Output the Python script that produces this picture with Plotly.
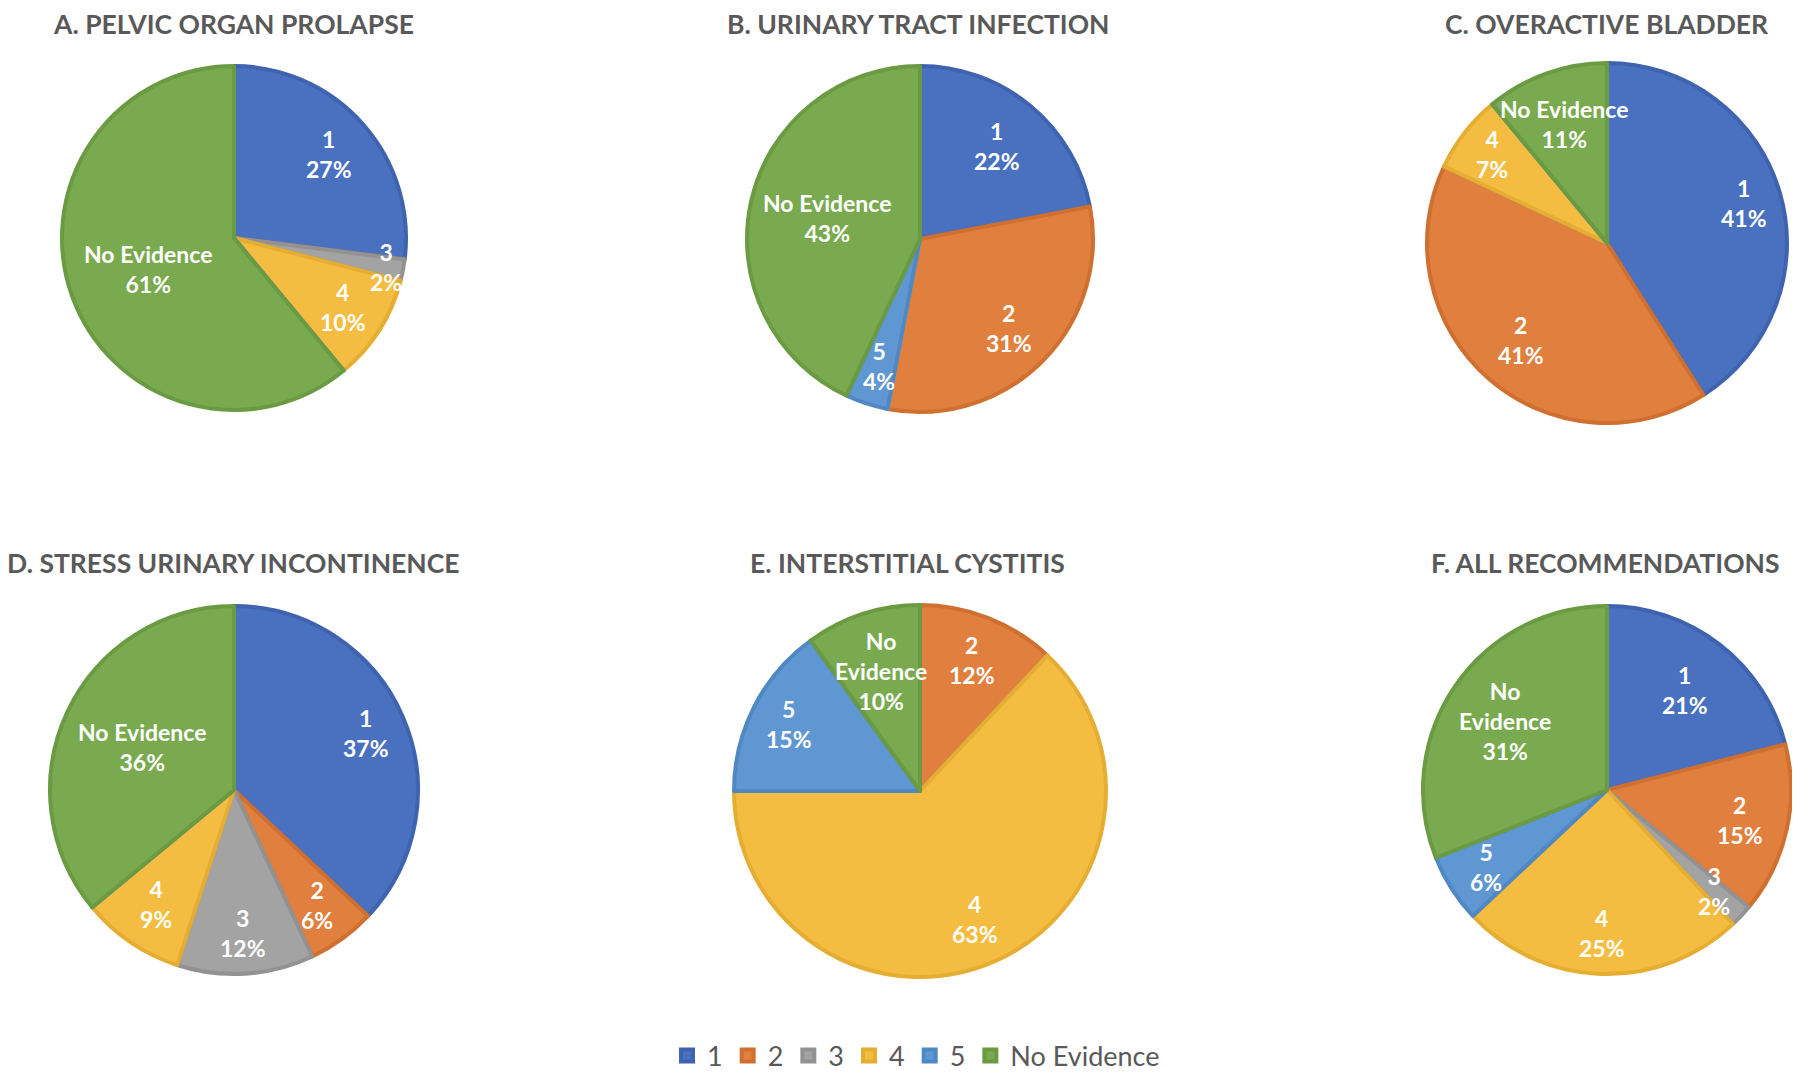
import math
import plotly.graph_objects as go

# ---------------- data ----------------
categories = ["1", "2", "3", "4", "5", "No Evidence"]
titles = ["A. PELVIC ORGAN PROLAPSE", "B. URINARY TRACT INFECTION", "C. OVERACTIVE BLADDER",
          "D. STRESS URINARY INCONTINENCE", "E. INTERSTITIAL CYSTITIS", "F. ALL RECOMMENDATIONS"]
pelvic_organ_prolapse = [27, 0, 2, 10, 0, 61]
urinary_tract_infection = [22, 31, 0, 0, 4, 43]
overactive_bladder = [41, 41, 0, 7, 0, 11]
stress_urinary_incontinence = [37, 6, 12, 9, 0, 36]
interstitial_cystitis = [0, 12, 0, 63, 15, 10]
all_recommendations = [21, 15, 2, 25, 6, 31]
panel_values = [pelvic_organ_prolapse, urinary_tract_infection, overactive_bladder,
                stress_urinary_incontinence, interstitial_cystitis, all_recommendations]

# ---------------- style ----------------
OFF = 8                     # page body margin of the html page
W, H = 1800 - OFF, 1081 - OFF
fills = ["#4A71C0", "#E07F3E", "#A3A3A3", "#F4BC40", "#5E97D1", "#79AA4F"]
edges = ["#3F63AE", "#CF7030", "#929292", "#E5AE32", "#4F88C2", "#6A9A42"]
# pie centre (px, in reference picture) and radius (px)
geom = [(234, 238, 172), (920, 239, 173), (1607, 243, 180),
        (234, 790, 184), (920, 791, 186), (1607, 790, 184)]
title_pos = [(233, 24), (918, 24), (1607, 24), (233, 563), (907, 563), (1605, 563)]
label_r = [
    [0.74, 0.75, 0.90, 0.75, 0.75, 0.53],
    [0.70, 0.73, 0.75, 0.75, 0.77, 0.55],
    [0.79, 0.72, 0.75, 0.81, 0.75, 0.70],
    [0.78, 0.77, 0.78, 0.75, 0.75, 0.55],
    [0.75, 0.76, 0.75, 0.75, 0.79, 0.68],
    [0.69, 0.74, 0.80, 0.78, 0.78, 0.67],
]
wrap_ne = [False, False, False, False, True, True]

fig = go.Figure()
annotations = []
for i, vals in enumerate(panel_values):
    cx, cy, r = geom[i]
    cx -= OFF
    cy -= OFF
    fig.add_trace(go.Pie(
        labels=categories, values=vals, sort=False, direction="clockwise", rotation=0,
        textinfo="none", hoverinfo="label+percent",
        marker=dict(colors=fills, line=dict(color=edges, width=4)),
        domain=dict(x=[(cx - r) / W, (cx + r) / W], y=[1 - (cy + r) / H, 1 - (cy - r) / H]),
        showlegend=(i == 0),
    ))
    total = sum(vals)
    cum = 0
    for j, v in enumerate(vals):
        if v == 0:
            continue
        mid = (cum + v / 2) / total * 2 * math.pi
        cum += v
        fr = label_r[i][j] * r
        name = categories[j]
        if name == "No Evidence" and wrap_ne[i]:
            name = "No<br>Evidence"
        pct = round(v / total * 100)
        annotations.append(dict(
            x=cx + fr * math.sin(mid), y=cy - fr * math.cos(mid), xref="x", yref="y",
            showarrow=False, text=f"<b>{name}<br>{pct}%</b>", align="center",
            xanchor="center", yanchor="middle", borderpad=0,
            font=dict(family="Lato", size=23, color="white"),
        ))

for i, t in enumerate(titles):
    tx, ty = title_pos[i]
    annotations.append(dict(
        x=tx - OFF, y=ty - OFF, xref="x", yref="y", showarrow=False,
        text=f"<b>{t}</b>", xanchor="center", yanchor="middle", borderpad=0,
        font=dict(family="Lato", size=26.5, color="#595959"),
    ))

fig.update_layout(
    width=W, height=H,
    margin=dict(l=0, r=0, t=0, b=0),
    paper_bgcolor="white", plot_bgcolor="rgba(0,0,0,0)",
    annotations=annotations,
    xaxis=dict(range=[0, W], visible=False, fixedrange=True),
    yaxis=dict(range=[H, 0], visible=False, fixedrange=True),
    legend=dict(orientation="h", x=(916 - OFF) / W, xanchor="center",
                y=1 - (1056 - OFF) / H, yanchor="middle",
                font=dict(family="Lato", size=27, color="#595959"), itemwidth=30,
                traceorder="normal"),
)
fig.write_html("out.html")
